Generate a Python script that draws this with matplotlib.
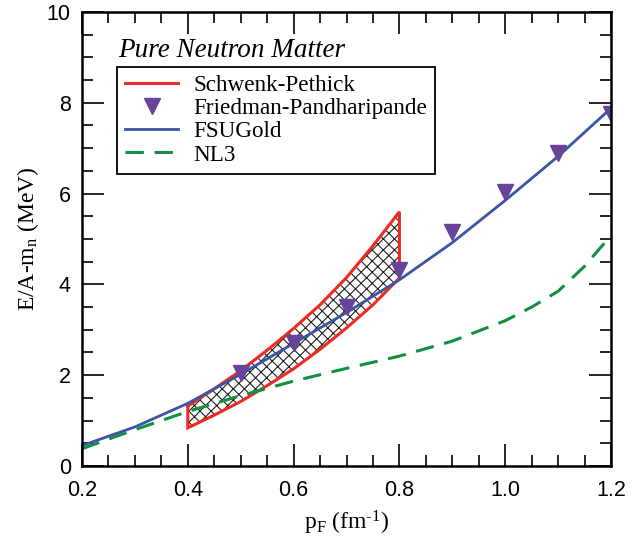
import matplotlib
matplotlib.use('Agg')
import matplotlib.pyplot as plt
import numpy as np
from matplotlib.lines import Line2D
from matplotlib.ticker import MultipleLocator

# Schwenk-Pethick band (upper / lower edges)
sp_x = [0.40, 0.45, 0.50, 0.55, 0.60, 0.65, 0.70, 0.75, 0.80]
sp_upper = [1.32, 1.70, 2.10, 2.55, 3.03, 3.55, 4.15, 4.85, 5.60]
sp_lower = [0.84, 1.12, 1.42, 1.77, 2.14, 2.57, 3.04, 3.55, 4.14]

# Friedman-Pandharipande points
fp_x = [0.5, 0.6, 0.7, 0.8, 0.9, 1.0, 1.1, 1.2]
fp_y = [2.05, 2.72, 3.50, 4.32, 5.15, 6.04, 6.90, 7.76]

# FSUGold
fsu_x = [0.2, 0.3, 0.4, 0.5, 0.6, 0.7, 0.8, 0.9, 1.0, 1.1, 1.2]
fsu_y = [0.45, 0.86, 1.38, 2.02, 2.70, 3.38, 4.10, 4.92, 5.85, 6.82, 7.88]

# NL3
nl3_x = [0.2, 0.3, 0.4, 0.5, 0.6, 0.7, 0.8, 0.9, 1.0, 1.05, 1.1, 1.15, 1.2]
nl3_y = [0.38, 0.80, 1.20, 1.55, 1.87, 2.15, 2.42, 2.75, 3.20, 3.50, 3.85, 4.40, 5.08]

red = '#ee2a24'
purple = '#67439a'
blue = '#3a55a5'
green = '#11913f'

plt.rcParams['hatch.linewidth'] = 0.8
plt.rcParams['hatch.color'] = 'black'
plt.rcParams['mathtext.fontset'] = 'custom'
plt.rcParams['mathtext.rm'] = 'Liberation Serif'
plt.rcParams['mathtext.it'] = 'Liberation Serif:italic'

fig = plt.figure(figsize=(6.44, 5.52), dpi=100)
ax = fig.add_axes([0.1273, 0.1558, 0.8215, 0.8225])

ax.fill_between(sp_x, sp_lower, sp_upper, facecolor='white', hatch='xxx',
                edgecolor='#222222', linewidth=0)
bx = sp_x + sp_x[::-1] + [sp_x[0]]
by = sp_upper + sp_lower[::-1] + [sp_upper[0]]
ax.plot(bx, by, color=red, lw=2.2, solid_joinstyle='miter')

ax.plot(nl3_x, nl3_y, color=green, lw=2.2, dashes=(6, 3.5))
ax.plot(fsu_x, fsu_y, color=blue, lw=2.0)
ax.plot(fp_x, fp_y, 'v', color=purple, ms=11, mec=purple)

ax.set_xlim(0.2, 1.2)
ax.set_ylim(0, 10)
ax.xaxis.set_major_locator(MultipleLocator(0.2))
ax.xaxis.set_minor_locator(MultipleLocator(0.05))
ax.yaxis.set_major_locator(MultipleLocator(2))
ax.yaxis.set_minor_locator(MultipleLocator(0.5))
ax.set_xticks([0.2, 0.4, 0.6, 0.8, 1.0, 1.2])
ax.set_xticklabels(['0.2', '0.4', '0.6', '0.8', '1.0', '1.2'])
ax.tick_params(which='both', direction='in', top=True, right=True, width=1.2)
ax.tick_params(which='major', length=16, labelsize=15.5)
ax.tick_params(axis='x', which='major', pad=10)
ax.tick_params(axis='y', which='major', pad=8)
ax.tick_params(which='minor', length=8)
for lab in ax.get_xticklabels() + ax.get_yticklabels():
    lab.set_family('Liberation Sans')
for s in ax.spines.values():
    s.set_linewidth(1.8)

ax.set_xlabel(r'p$_\mathregular{F}$ (fm$^{\text{-}\mathregular{1}}$)', family='Liberation Serif',
              fontsize=17, labelpad=6)
ax.set_ylabel(r'E/A-m$_\mathregular{n}$ (MeV)', family='Liberation Serif',
              fontsize=17, labelpad=4)

ax.text(0.068, 0.901, 'Pure Neutron Matter', transform=ax.transAxes,
        family='Liberation Serif', style='italic', fontsize=19.5)

handles = [Line2D([], [], color=red, lw=2.2),
           Line2D([], [], ls='none', marker='v', color=purple, ms=11),
           Line2D([], [], color=blue, lw=2.0),
           Line2D([], [], color=green, lw=2.2, dashes=(6, 3.5))]
labels = ['Schwenk-Pethick', 'Friedman-Pandharipande', 'FSUGold', 'NL3']
leg = ax.legend(handles, labels, loc='upper left', bbox_to_anchor=(0.066, 0.879),
                borderaxespad=0, fancybox=False, framealpha=1, edgecolor='black',
                prop={'family': 'Liberation Serif', 'size': 16.7},
                handlelength=2.3, handletextpad=0.65, labelspacing=0.08,
                borderpad=0.35)
leg.get_frame().set_linewidth(1.3)

fig.savefig('out.png', dpi=100)
